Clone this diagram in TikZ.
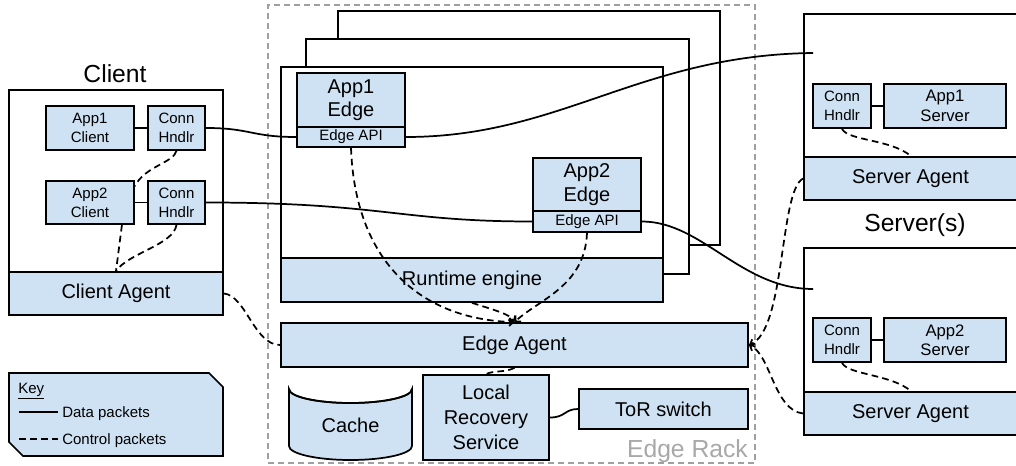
\documentclass[tikz,border=0pt]{standalone}
\usepackage{fontspec}
\setmainfont{Liberation Sans}
\usetikzlibrary{fit,arrows.meta}
\definecolor{boxblue}{HTML}{CFE2F3}
\definecolor{rackgray}{HTML}{A0A0A0}
\definecolor{racktext}{HTML}{A8A8A8}
\newcommand\boxlabel[3]{\node[#1, align=center, inner sep=0pt] (#2-t) at (#2.center) {#3};}
\begin{document}
\begin{tikzpicture}[x=0.75pt,y=-0.75pt,
  bluebox/.style={draw, fill=boxblue, line width=1.3pt, inner sep=0pt},
  whitebox/.style={draw, fill=white, line width=1.3pt, inner sep=0pt},
  big/.style={font=\fontsize{15}{17.5}\selectfont},
  small/.style={font=\fontsize{11.25}{14.25}\selectfont},
  mid/.style={font=\fontsize{12.5}{14.5}\selectfont},
  keyfont/.style={font=\fontsize{11.25}{12}\selectfont, inner sep=0pt},
  titlefont/.style={font=\fontsize{18.5}{22}\selectfont, inner sep=0pt},
  data/.style={line width=1.3pt},
  ctrl/.style={line width=1.3pt, dash pattern=on 5pt off 3.2pt},
  tip/.style={-{Straight Barb[length=3pt,width=6pt]}},
]
\useasboundingbox (0,0) rectangle (1016,466);
\begin{scope}
\clip (0,0) rectangle (1016,466);

% ---------------- Edge rack ----------------
\node[draw=rackgray, dash pattern=on 4.5pt off 3pt, line width=1.1pt, inner sep=0pt,
      fit={(268,5) (755,463)}] (rack) {};
\node[titlefont, text=racktext, anchor=base east] (racklbl) at (748,457) {Edge Rack};

\node[whitebox, fit={(338,11) (720,245)}] (bk3) {};
\node[whitebox, fit={(306,39) (689,274)}] (bk2) {};
\node[whitebox, fit={(281,67) (663,302)}] (front) {};
\node[bluebox, fit={(281,258) (663,302)}] (runtime) {};
\boxlabel{big}{runtime}{Runtime engine}

\node[bluebox, fit={(297,73) (405,127)}] (app1e) {};
\boxlabel{big}{app1e}{App1\\Edge}
\node[bluebox, fit={(297,127) (405,147)}] (api1) {};
\boxlabel{small}{api1}{Edge API}
\node[bluebox, fit={(533,158) (641,211)}] (app2e) {};
\boxlabel{big}{app2e}{App2\\Edge}
\node[bluebox, fit={(533,211) (641,232)}] (api2) {};
\boxlabel{small}{api2}{Edge API}

\node[bluebox, fit={(281,323) (748,367)}] (eag) {};
\boxlabel{big}{eag}{Edge Agent}

% cache cylinder
\filldraw[fill=boxblue, line width=1.3pt]
  (289,389) -- (289,446) arc (180:0:61.5 and 14) -- (412,389) arc (0:180:61.5 and 14) -- cycle;
\draw[line width=1.3pt] (289,389) arc (180:0:61.5 and 14);
\node[big, inner sep=0pt] (cache) at (350.5,425) {Cache};

\node[bluebox, fit={(423,375) (549,460)}] (lrs) {};
\boxlabel{font=\fontsize{15}{18.5}\selectfont}{lrs}{Local\\Recovery\\Service}
\node[bluebox, fit={(579,389) (748,429)}] (tor) {};
\boxlabel{big}{tor}{ToR switch}

% ---------------- Client ----------------
\node[titlefont, anchor=base] (cltitle) at (115,83) {Client};
\node[whitebox, fit={(9,90) (223,315)}] (client) {};
\node[bluebox, fit={(9,272) (223,315)}] (clag) {};
\boxlabel{big}{clag}{Client Agent}
\node[bluebox, fit={(46,106) (134,150)}] (app1c) {};
\boxlabel{small}{app1c}{App1\\Client}
\node[bluebox, fit={(148,106) (205,150)}] (ch1) {};
\boxlabel{small}{ch1}{Conn\\Hndlr}
\node[bluebox, fit={(46,181) (134,224)}] (app2c) {};
\boxlabel{small}{app2c}{App2\\Client}
\node[bluebox, fit={(148,181) (205,224)}] (ch2) {};
\boxlabel{small}{ch2}{Conn\\Hndlr}

% ---------------- Servers ----------------
\node[whitebox, fit={(804,14) (1018,200)}] (srv1) {};
\node[bluebox, fit={(804,157) (1018,200)}] (sag1) {};
\node[big, inner sep=0pt] (sag1-t) at (910.5,178.5) {Server Agent};
\node[bluebox, fit={(813,84) (871,128)}] (ch3) {};
\boxlabel{small}{ch3}{Conn\\Hndlr}
\node[bluebox, fit={(884,84) (1006,128)}] (app1s) {};
\boxlabel{mid}{app1s}{App1\\Server}
\coordinate (s1in) at (813,53);

\node[titlefont, anchor=base] (srvtitle) at (915,232) {Server(s)};

\node[whitebox, fit={(804,248) (1018,435)}] (srv2) {};
\node[bluebox, fit={(804,392) (1018,435)}] (sag2) {};
\node[big, inner sep=0pt] (sag2-t) at (910.5,413.5) {Server Agent};
\node[bluebox, fit={(813,318) (871,362)}] (ch4) {};
\boxlabel{small}{ch4}{Conn\\Hndlr}
\node[bluebox, fit={(884,318) (1006,362)}] (app2s) {};
\boxlabel{mid}{app2s}{App2\\Server}
\coordinate (s2in) at (813,289);

% ---------------- Key ----------------
\filldraw[fill=boxblue, line width=1.3pt]
  (9,373) -- (209,373) -- (223,387) -- (223,456) -- (23,456) -- (9,442) -- cycle;
\node[keyfont, anchor=base west] (keyt) at (18,393) {\underline{Key}};
\coordinate (kd1) at (19,412); \coordinate (kd2) at (58,412);
\coordinate (kc1) at (19,439); \coordinate (kc2) at (58,439);
\draw[data] (kd1) -- (kd2);
\draw[ctrl] (kc1) -- (kc2);
\node[keyfont, anchor=base west] (kdata) at (62,417) {Data packets};
\node[keyfont, anchor=base west] (kctrl) at (62,444) {Control packets};

% ---------------- Data connectors ----------------
\draw[data] (app1c) -- (ch1);
\draw[data] (app2c) -- (ch2);
\draw[data] (ch3) -- (app1s);
\draw[data] (ch4) -- (app2s);
\draw[data] (ch1.east) .. controls +(45,0) and +(-45,0) .. (api1.west);
\draw[data] (api1.east) .. controls +(155,0) and +(-173,2) .. (s1in);
\draw[data] (ch2.east) .. controls +(175,0) and +(-133,0) .. (api2.west);
\draw[data] (api2.east) .. controls +(60,0) and +(-72,0) .. (s2in);
\draw[data] (lrs.east) .. controls +(16,0) and +(-14,0) .. (tor.west);

% ---------------- Control connectors ----------------
\draw[ctrl] (ch1.south) .. controls +(-3,12) and +(10,-20) .. (app2c.20);
\draw[ctrl] (ch2.south) .. controls +(-3,20) and +(12,-18) .. (clag.north);
\draw[ctrl] (app2c.-35) -- (clag.north);
\draw[ctrl] (clag.east) .. controls +(22,2) and +(-26,0) .. (eag.west);
\draw[ctrl, tip] (api1.south) .. controls +(4,113) and +(-95,-3) .. (eag.north);
\draw[ctrl, tip] (api2.south) .. controls +(-2,53) and +(25,-23) .. (eag.north);
\draw[ctrl, tip] (runtime.south) .. controls +(25,8) and +(-5,-8) .. (eag.north);
\draw[ctrl] (eag.south) .. controls +(-10,5) and +(8,-4) .. (lrs.north);
\draw[ctrl] (ch3.south) .. controls +(6,12) and +(-20,-17) .. (sag1.north);
\draw[ctrl] (ch4.south) .. controls +(6,12) and +(-20,-17) .. (sag2.north);
\draw[ctrl, tip] (sag1.west) .. controls +(-24,12) and +(37,-15) .. (eag.east);
\draw[ctrl, tip] (sag2.west) .. controls +(-29,-3) and +(22,10) .. (eag.east);
\end{scope}
\end{tikzpicture}
\end{document}
